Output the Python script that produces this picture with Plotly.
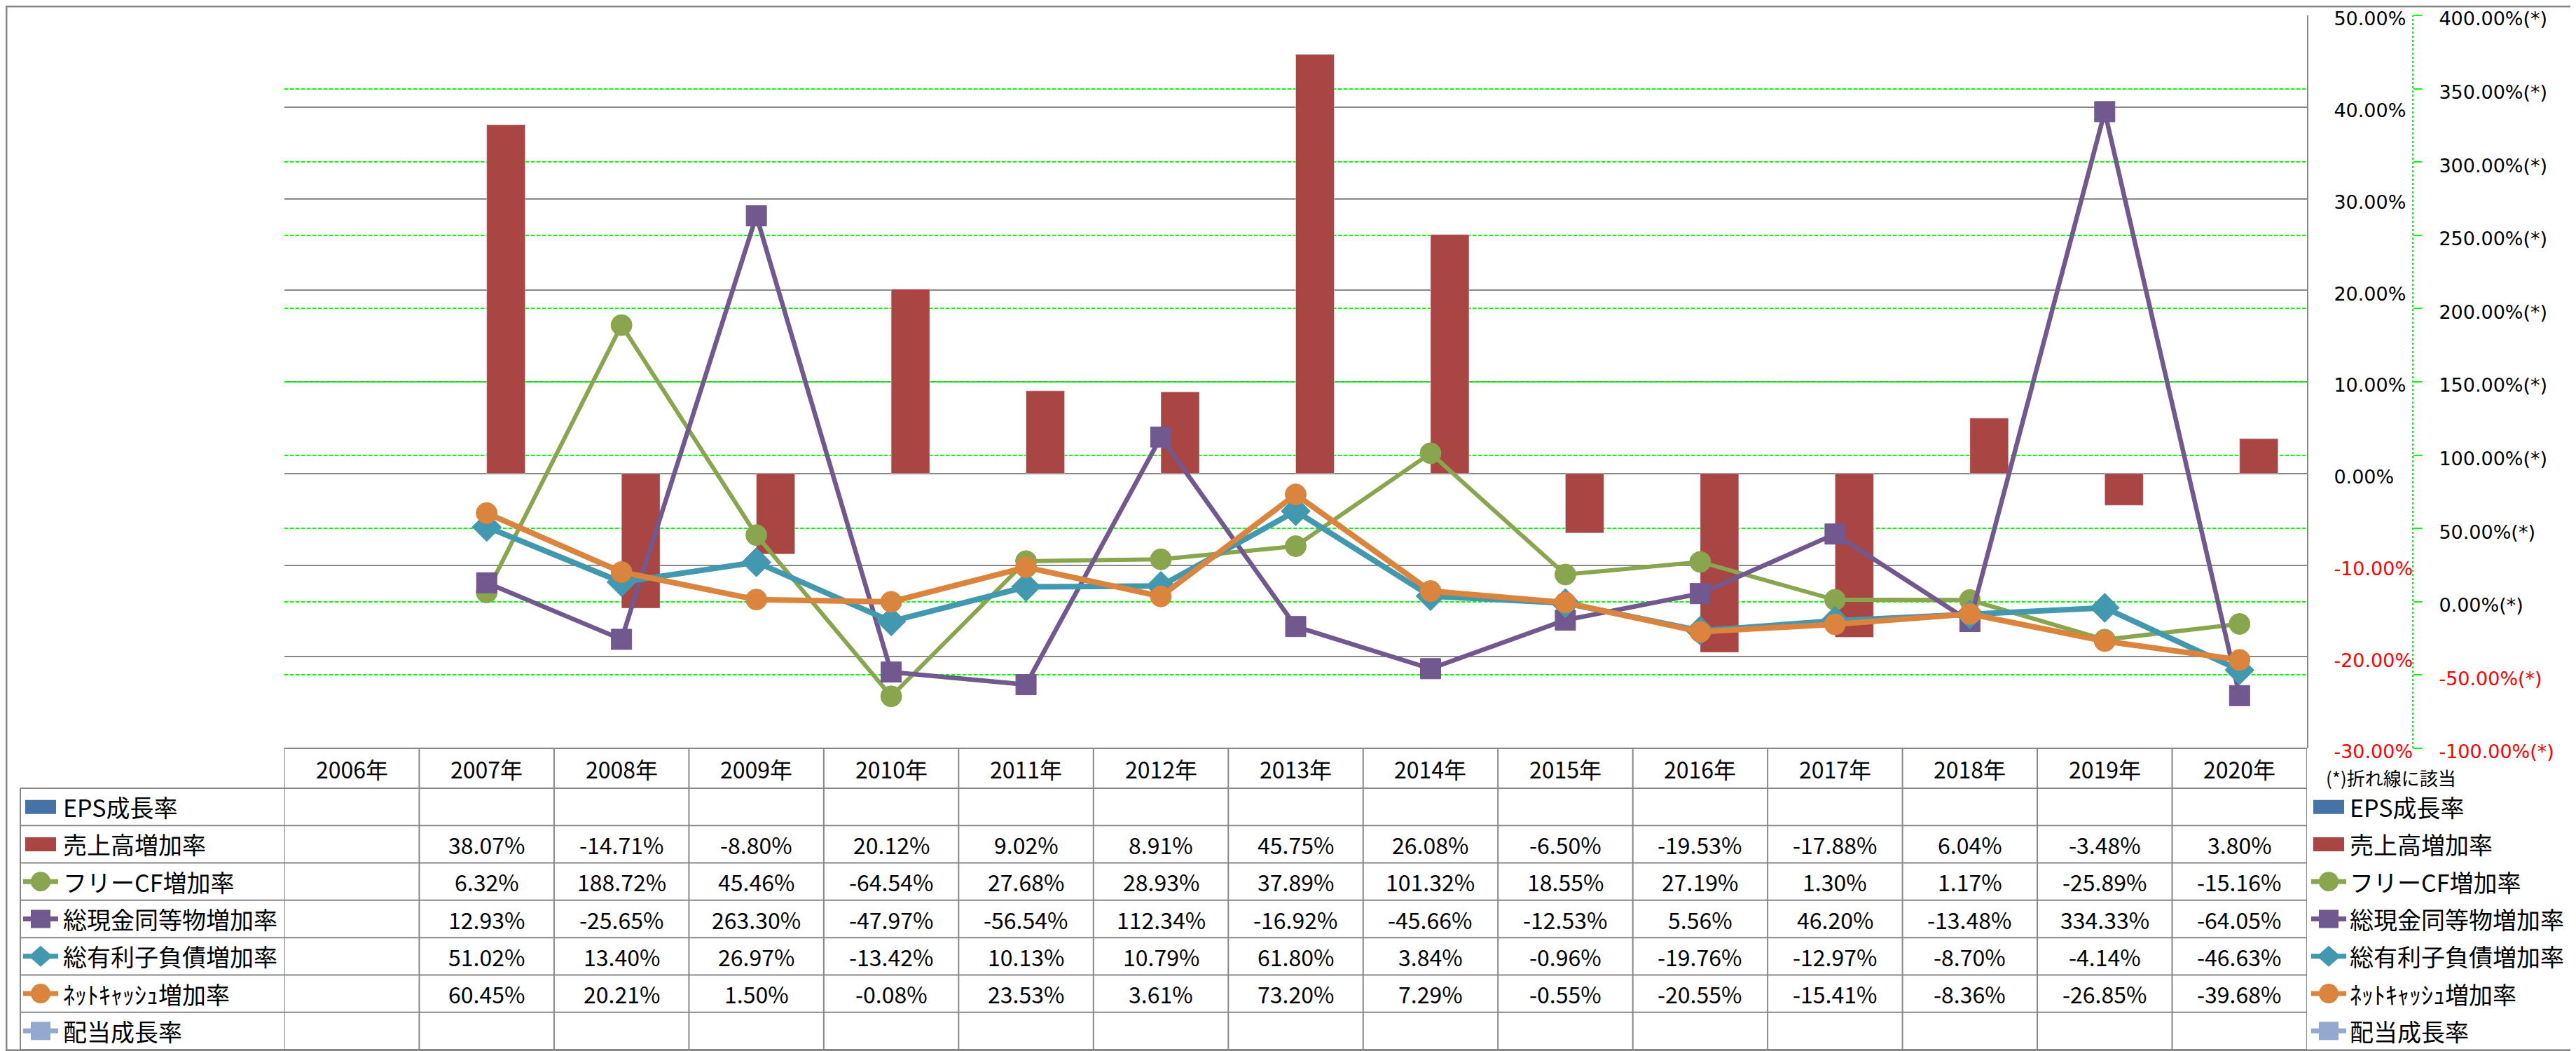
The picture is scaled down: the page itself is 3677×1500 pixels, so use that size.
import plotly.graph_objects as go

W, H = 3677, 1500
OFF = 8  # the page body margin shifts the figure by this many pixels

# ---------------- data ----------------
years = ["2006年", "2007年", "2008年", "2009年", "2010年", "2011年", "2012年", "2013年",
         "2014年", "2015年", "2016年", "2017年", "2018年", "2019年", "2020年"]
eps_growth = [None] * 15
sales_growth = [None, 38.07, -14.71, -8.80, 20.12, 9.02, 8.91, 45.75, 26.08, -6.50, -19.53, -17.88, 6.04, -3.48, 3.80]
fcf_growth = [None, 6.32, 188.72, 45.46, -64.54, 27.68, 28.93, 37.89, 101.32, 18.55, 27.19, 1.30, 1.17, -25.89, -15.16]
cash_growth = [None, 12.93, -25.65, 263.30, -47.97, -56.54, 112.34, -16.92, -45.66, -12.53, 5.56, 46.20, -13.48, 334.33, -64.05]
debt_growth = [None, 51.02, 13.40, 26.97, -13.42, 10.13, 10.79, 61.80, 3.84, -0.96, -19.76, -12.97, -8.70, -4.14, -46.63]
netcash_growth = [None, 60.45, 20.21, 1.50, -0.08, 23.53, 3.61, 73.20, 7.29, -0.55, -20.55, -15.41, -8.36, -26.85, -39.68]
dividend_growth = [None] * 15

series_names = ["EPS成長率", "売上高増加率", "フリーCF増加率", "総現金同等物増加率",
                "総有利子負債増加率", "ﾈｯﾄｷｬｯｼｭ増加率", "配当成長率"]
left_ticks = [-30, -20, -10, 0, 10, 20, 30, 40, 50]
right_ticks = [-100, -50, 0, 50, 100, 150, 200, 250, 300, 350, 400]
footnote = "(*)折れ線に該当"

# ---------------- styles ----------------
BLUE, RED, GREEN, PURPLE, TEAL, ORANGE, LBLUE = (
    "#4572A7", "#A94644", "#89A54E", "#71588F", "#4198AF", "#DB843D", "#93A9CF")
GRAY = "#888888"
LIME = "#00FF00"
TABLE_FONT = "Noto Sans CJK JP"
AXIS_FONT = "DejaVu Sans"

PLOT_L, PLOT_R, PLOT_T, PLOT_B = 406, 3293, 22, 1068
TABLE_L = 29
HEADER_B = 1125
TABLE_B = 1498
ROW_H = (TABLE_B - HEADER_B) / 7
BW = 0.2857
FW, FH = W - OFF, H - OFF


def px(x):
    return (x - OFF) / FW


def py(y):
    return 1 - (y - OFF) / FH


def fmt_tick(v, suffix=""):
    s = f"{v:.2f}%{suffix}"
    if v < 0:
        return f'<span style="color:#FF0000">{s}</span>'
    return s


fig = go.Figure()
fig.add_trace(go.Bar(x=years, y=eps_growth, name=series_names[0], marker_color=BLUE,
                     width=BW, offset=-BW, yaxis="y"))
fig.add_trace(go.Bar(x=years, y=sales_growth, name=series_names[1], marker_color=RED,
                     width=BW, offset=0, yaxis="y"))

line_specs = [
    (fcf_growth, series_names[2], GREEN, "circle", 30, 6),
    (cash_growth, series_names[3], PURPLE, "square", 29, 6.5),
    (debt_growth, series_names[4], TEAL, "diamond", 32, 8),
    (netcash_growth, series_names[5], ORANGE, "circle", 30, 8),
    (dividend_growth, series_names[6], LBLUE, "square", 29, 6),
]
for vals, nm, col, sym, msz, lw in line_specs:
    fig.add_trace(go.Scatter(x=years, y=vals, name=nm, yaxis="y2", mode="lines+markers",
                             line=dict(color=col, width=lw),
                             marker=dict(symbol=sym, size=msz, color=col,
                                         line=dict(color=col, width=1))))

shapes = []
annotations = []

# outer border
shapes.append(dict(type="rect", xref="paper", yref="paper", x0=px(OFF + 1), x1=px(W - 1),
                   y0=py(H - 1), y1=py(OFF + 1), line=dict(color=GRAY, width=3)))

# secondary axis dotted line
shapes.append(dict(type="line", xref="paper", yref="paper", x0=px(3444), x1=px(3444),
                   y0=py(PLOT_B), y1=py(PLOT_T), line=dict(color=LIME, width=2, dash="dot")))

# table horizontal lines
shapes.append(dict(type="line", xref="x", yref="paper", x0=-0.5, x1=len(years) - 0.5,
                   y0=py(PLOT_B), y1=py(PLOT_B), line=dict(color=GRAY, width=2)))
for i in range(8):
    yy = HEADER_B + i * ROW_H
    shapes.append(dict(type="line", xref="paper", yref="paper", x0=px(TABLE_L), x1=px(PLOT_R),
                       y0=py(yy), y1=py(yy), line=dict(color=GRAY, width=2)))
# table vertical lines
shapes.append(dict(type="line", xref="paper", yref="paper", x0=px(TABLE_L), x1=px(TABLE_L),
                   y0=py(HEADER_B), y1=py(TABLE_B), line=dict(color=GRAY, width=2)))
for k in range(len(years) + 1):
    shapes.append(dict(type="line", xref="x", yref="paper", x0=k - 0.5, x1=k - 0.5,
                       y0=py(PLOT_B), y1=py(TABLE_B), line=dict(color=GRAY, width=2)))

# header
for yr in years:
    annotations.append(dict(x=yr, xref="x", y=py((PLOT_B + HEADER_B) / 2), yref="paper",
                            text=yr, showarrow=False, xanchor="center", yanchor="middle",
                            font=dict(family=TABLE_FONT, size=32, color="black")))

all_series = [eps_growth, sales_growth, fcf_growth, cash_growth, debt_growth,
              netcash_growth, dividend_growth]
key_styles = [("bar", BLUE, None), ("bar", RED, None), ("line", GREEN, "circle"),
              ("line", PURPLE, "square"), ("line", TEAL, "diamond"),
              ("line", ORANGE, "circle"), ("line", LBLUE, "square")]


def add_key(cx, cy, kind, col, sym):
    if kind == "bar":
        shapes.append(dict(type="rect", xref="paper", yref="paper", x0=px(cx - 22), x1=px(cx + 22),
                           y0=py(cy + 10), y1=py(cy - 10), line=dict(width=0), fillcolor=col))
        return
    shapes.append(dict(type="line", xref="paper", yref="paper", x0=px(cx - 25), x1=px(cx + 25),
                       y0=py(cy), y1=py(cy), line=dict(color=col, width=7)))
    if sym == "circle":
        shapes.append(dict(type="circle", xref="paper", yref="paper", x0=px(cx - 14), x1=px(cx + 14),
                           y0=py(cy + 14), y1=py(cy - 14), line=dict(width=0), fillcolor=col))
    elif sym == "square":
        shapes.append(dict(type="rect", xref="paper", yref="paper", x0=px(cx - 14), x1=px(cx + 14),
                           y0=py(cy + 13), y1=py(cy - 13), line=dict(width=0), fillcolor=col))
    else:
        path = (f"M {px(cx - 17)},{py(cy)} L {px(cx)},{py(cy - 15)} "
                f"L {px(cx + 17)},{py(cy)} L {px(cx)},{py(cy + 15)} Z")
        shapes.append(dict(type="path", xref="paper", yref="paper", path=path,
                           line=dict(width=0), fillcolor=col))


for i, (nm, vals, (kind, col, sym)) in enumerate(zip(series_names, all_series, key_styles)):
    cy = HEADER_B + (i + 0.5) * ROW_H
    # left labels
    add_key(58, cy, kind, col, sym)
    annotations.append(dict(x=px(88), xref="paper", y=py(cy), yref="paper", text=nm,
                            showarrow=False, xanchor="left", yanchor="middle",
                            font=dict(family=TABLE_FONT, size=34, color="black")))
    # right legend
    add_key(3324, cy, kind, col, sym)
    annotations.append(dict(x=px(3352), xref="paper", y=py(cy), yref="paper", text=nm,
                            showarrow=False, xanchor="left", yanchor="middle",
                            font=dict(family=TABLE_FONT, size=34, color="black")))
    # values
    for yr, v in zip(years, vals):
        if v is None:
            continue
        annotations.append(dict(x=yr, xref="x", y=py(cy), yref="paper", text=f"{v:.2f}%",
                                showarrow=False, xanchor="center", yanchor="middle",
                                font=dict(family=TABLE_FONT, size=32, color="black")))

annotations.append(dict(x=px(3318), xref="paper", y=py(1109), yref="paper", text=footnote,
                        showarrow=False, xanchor="left", yanchor="middle",
                        font=dict(family=TABLE_FONT, size=26, color="black")))

fig.update_layout(
    width=FW, height=FH, autosize=False,
    margin=dict(l=0, r=0, t=0, b=0, pad=0, autoexpand=False),
    paper_bgcolor="white", plot_bgcolor="white",
    showlegend=False, barmode="overlay",
    xaxis=dict(domain=[px(PLOT_L), px(PLOT_R)], type="category", range=[-0.5, len(years) - 0.5],
               automargin=False,
               showticklabels=False, showgrid=False, zeroline=False, showline=False, ticks=""),
    yaxis=dict(domain=[py(PLOT_B), py(PLOT_T)], range=[-30, 50], side="right",
               automargin=False, ticklabeloverflow="allow", ticklabelshift=5,
               showline=True, linecolor=GRAY, linewidth=2,
               showgrid=True, gridcolor=GRAY, gridwidth=1.5, zeroline=False,
               tickmode="array", tickvals=left_ticks, ticktext=[fmt_tick(v) for v in left_ticks],
               ticks="", ticklabelstandoff=31,
               tickfont=dict(family=AXIS_FONT, size=27, color="black")),
    yaxis2=dict(overlaying="y", side="right", anchor="free", position=px(3444),
                automargin=False, ticklabeloverflow="allow", ticklabelshift=5,
                range=[-100, 400], showline=False, zeroline=False,
                showgrid=True, gridcolor=LIME, gridwidth=1.5, griddash="5px,3px",
                tickmode="array", tickvals=right_ticks,
                ticktext=[fmt_tick(v, "(*)") for v in right_ticks],
                ticks="outside", ticklen=12, tickcolor=LIME, tickwidth=1.5,
                ticklabelstandoff=19,
                tickfont=dict(family=AXIS_FONT, size=27, color="black")),
    shapes=shapes,
    annotations=annotations,
)

fig.write_html("out.html")
